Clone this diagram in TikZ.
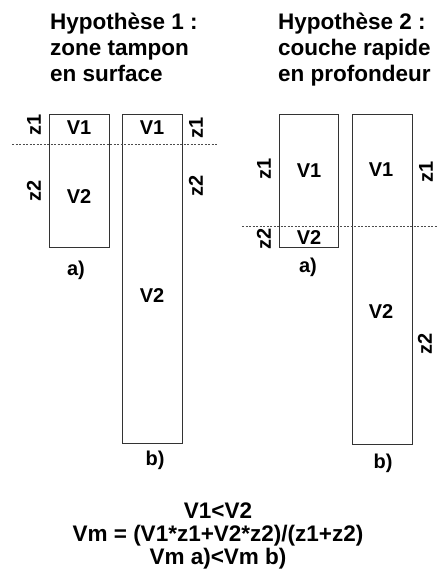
\documentclass[tikz,border=0pt]{standalone}
\usepackage{fontspec}
\setmainfont{Liberation Sans}
\begin{document}
\begin{tikzpicture}[x=1pt,y=-1pt,
  col/.style={draw=black!80, line width=0.8pt, anchor=north west, inner sep=0pt},
  lab/.style={font=\bfseries\fontsize{20}{22}\selectfont, inner sep=0pt, anchor=base},
  zlab/.style={font=\bfseries\fontsize{20}{22}\selectfont, inner sep=0pt, rotate=90},
  ttl/.style={font=\bfseries\fontsize{22.5}{26}\selectfont, inner sep=0pt, anchor=base west},
  frm/.style={font=\bfseries\fontsize{22.5}{23}\selectfont, inner sep=0pt, anchor=base},
  cut/.style={draw=black!70, line width=0.7pt, dash pattern=on 2pt off 1.5pt}]
\useasboundingbox (0,0) rectangle (437,580);
% titles
\node[ttl] (t1a) at (50,30) {Hypothèse 1 :};
\node[ttl] (t1b) at (50,56) {zone tampon};
\node[ttl] (t1c) at (50,82) {en surface};
\node[ttl] (t2a) at (278,30) {Hypothèse 2 :};
\node[ttl] (t2b) at (278,56) {couche rapide};
\node[ttl] (t2c) at (278,82) {en profondeur};
% Hypothesis 1 columns
\node[col, minimum width=60pt, minimum height=133pt] (a1) at (49,114) {};
\node[col, minimum width=60pt, minimum height=329pt] (b1) at (122,114) {};
\coordinate (d1s) at (12,144);
\coordinate (d1e) at (218,144);
\draw[cut] (d1s) -- (d1e);
\node[lab] (a1v1) at (79,135) {V1};
\node[lab] (a1v2) at (79,203) {V2};
\node[lab] (b1v1) at (152,135) {V1};
\node[lab] (b1v2) at (152,302) {V2};
\node[zlab] (a1z1) at (34,125) {z1};
\node[zlab] (a1z2) at (34,191) {z2};
\node[zlab] (b1z1) at (196,128) {z1};
\node[zlab] (b1z2) at (196,186) {z2};
\node[lab] (a1l) at (76,275) {a)};
\node[lab] (b1l) at (155,465) {b)};
% Hypothesis 2 columns
\node[col, minimum width=59pt, minimum height=133pt] (a2) at (279,114) {};
\node[col, minimum width=60pt, minimum height=330pt] (b2) at (352,114) {};
\coordinate (d2s) at (242,226);
\coordinate (d2e) at (437,226);
\draw[cut] (d2s) -- (d2e);
\node[lab] (a2v1) at (309,178) {V1};
\node[lab] (a2v2) at (309,244) {V2};
\node[lab] (b2v1) at (381,176) {V1};
\node[lab] (b2v2) at (381,318) {V2};
\node[zlab] (a2z1) at (264,169) {z1};
\node[zlab] (a2z2) at (264,239) {z2};
\node[zlab] (b2z1) at (426,172) {z1};
\node[zlab] (b2z2) at (425,344) {z2};
\node[lab] (a2l) at (308,272) {a)};
\node[lab] (b2l) at (383,468) {b)};
% formulas
\node[frm] (f1) at (218,518) {V1<V2};
\node[frm] (f2) at (218,541) {Vm = (V1*z1+V2*z2)/(z1+z2)};
\node[frm] (f3) at (218,564) {Vm a)<Vm b)};
\end{tikzpicture}
\end{document}
